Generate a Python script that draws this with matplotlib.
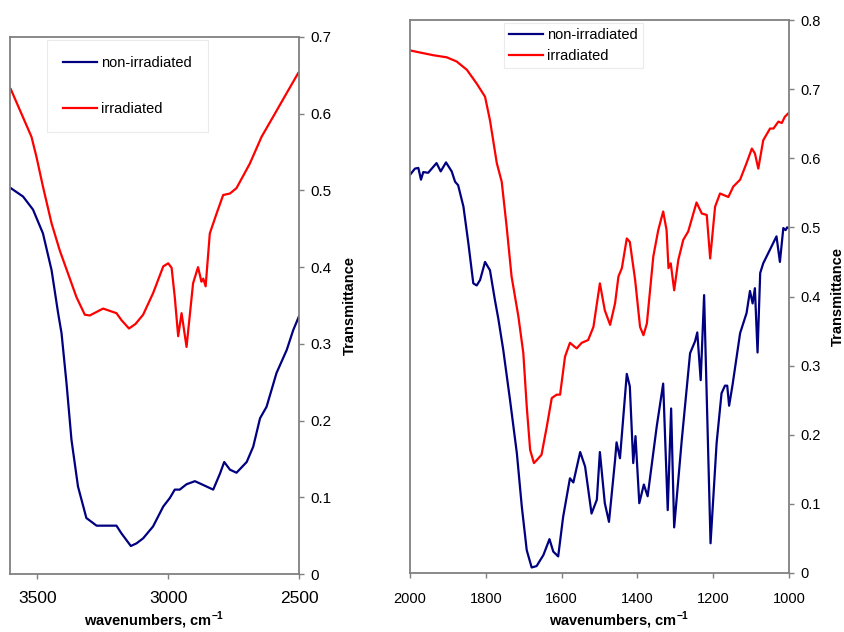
import matplotlib
matplotlib.use("Agg")
import matplotlib.pyplot as plt
from matplotlib.ticker import FuncFormatter

plt.rcParams['font.family'] = ['Liberation Sans', 'DejaVu Sans']
plt.rcParams['mathtext.fontset'] = 'custom'
plt.rcParams['mathtext.rm'] = 'Liberation Sans'
plt.rcParams['mathtext.bf'] = 'Liberation Sans:bold'

# high wavenumber region (O-H / C-H stretch)
hi_wn_irr = [3602, 3523, 3504, 3479, 3446, 3415, 3351, 3319, 3300, 3249, 3198, 3179,
             3150, 3125, 3096, 3058, 3019, 3000, 2987, 2975, 2962, 2949, 2930, 2905,
             2886, 2873, 2866, 2857, 2841, 2815, 2790, 2764, 2739, 2688, 2643, 2599,
             2547, 2503]
hi_irr = [0.632, 0.570, 0.544, 0.505, 0.457, 0.422, 0.361, 0.338, 0.337, 0.346, 0.340, 0.331,
          0.320, 0.326, 0.338, 0.366, 0.401, 0.405, 0.399, 0.361, 0.310, 0.340, 0.296, 0.379,
          0.400, 0.381, 0.385, 0.375, 0.444, 0.470, 0.494, 0.496, 0.503, 0.535, 0.570, 0.596,
          0.627, 0.653]

hi_wn_non = [3602, 3555, 3517, 3479, 3446, 3421, 3408, 3389, 3370, 3345, 3313, 3274,
             3198, 3179, 3143, 3121, 3096, 3058, 3019, 2994, 2975, 2956, 2930, 2898,
             2866, 2828, 2802, 2786, 2764, 2739, 2700, 2675, 2649, 2624, 2586, 2547,
             2522, 2500]
hi_non = [0.503, 0.492, 0.475, 0.444, 0.396, 0.340, 0.314, 0.249, 0.175, 0.114, 0.073, 0.063,
          0.063, 0.053, 0.0365, 0.040, 0.0465, 0.062, 0.088, 0.099, 0.110, 0.110, 0.117, 0.121,
          0.116, 0.110, 0.131, 0.146, 0.136, 0.132, 0.146, 0.166, 0.203, 0.218, 0.262, 0.292,
          0.318, 0.336]

# fingerprint region
lo_wn_irr = [2000, 1974, 1938, 1903, 1877, 1850, 1824, 1802, 1789, 1771, 1758, 1745,
             1732, 1714, 1701, 1692, 1683, 1673, 1661, 1653, 1639, 1626, 1613, 1604,
             1591, 1578, 1565, 1560, 1547, 1530, 1516, 1499, 1486, 1472, 1459, 1450,
             1441, 1428, 1420, 1406, 1393, 1384, 1375, 1358, 1345, 1332, 1323, 1318,
             1312, 1303, 1292, 1279, 1266, 1244, 1230, 1217, 1208, 1195, 1182, 1160,
             1147, 1129, 1112, 1098, 1090, 1081, 1068, 1050, 1041, 1028, 1019, 1011,
             1000]
lo_irr = [0.756, 0.753, 0.749, 0.746, 0.740, 0.728, 0.708, 0.689, 0.655, 0.593, 0.566, 0.501,
          0.429, 0.371, 0.318, 0.241, 0.178, 0.159, 0.166, 0.171, 0.212, 0.253, 0.258, 0.258,
          0.313, 0.333, 0.327, 0.325, 0.333, 0.337, 0.356, 0.419, 0.380, 0.359, 0.390, 0.429,
          0.441, 0.484, 0.479, 0.424, 0.356, 0.344, 0.361, 0.458, 0.496, 0.523, 0.496, 0.441,
          0.448, 0.409, 0.453, 0.482, 0.494, 0.536, 0.520, 0.518, 0.455, 0.530, 0.549, 0.544,
          0.559, 0.569, 0.593, 0.614, 0.607, 0.585, 0.626, 0.643, 0.643, 0.653, 0.651, 0.660,
          0.666]

lo_wn_non = [2000, 1987, 1978, 1971, 1965, 1952, 1930, 1919, 1905, 1890, 1881, 1873,
             1859, 1846, 1833, 1824, 1815, 1802, 1789, 1776, 1767, 1754, 1736, 1718,
             1705, 1692, 1679, 1666, 1648, 1632, 1622, 1609, 1596, 1578, 1569, 1551,
             1538, 1521, 1507, 1499, 1486, 1475, 1459, 1455, 1446, 1428, 1420, 1411,
             1405, 1395, 1383, 1373, 1349, 1332, 1320, 1311, 1303, 1283, 1261, 1248,
             1242, 1233, 1224, 1207, 1191, 1178, 1169, 1163, 1158, 1149, 1129, 1112,
             1103, 1096, 1090, 1083, 1076, 1068, 1033, 1024, 1015, 1009, 1005, 1000]
lo_non = [0.576, 0.585, 0.586, 0.569, 0.580, 0.579, 0.593, 0.581, 0.594, 0.581, 0.566, 0.561,
          0.530, 0.477, 0.419, 0.416, 0.424, 0.450, 0.438, 0.395, 0.368, 0.323, 0.250, 0.173,
          0.096, 0.033, 0.008, 0.010, 0.026, 0.049, 0.031, 0.024, 0.081, 0.137, 0.131, 0.175,
          0.154, 0.086, 0.106, 0.175, 0.101, 0.074, 0.163, 0.189, 0.166, 0.288, 0.270, 0.159,
          0.198, 0.101, 0.128, 0.111, 0.212, 0.274, 0.091, 0.238, 0.066, 0.192, 0.318, 0.335,
          0.348, 0.279, 0.402, 0.043, 0.188, 0.260, 0.271, 0.271, 0.242, 0.272, 0.347, 0.376,
          0.408, 0.390, 0.412, 0.319, 0.434, 0.448, 0.487, 0.450, 0.499, 0.496, 0.500, 0.499]

NAVY = '#000080'
RED = '#ff0000'
GRAY = '#808080'

fig = plt.figure(figsize=(8.44, 6.32), dpi=100)
ax1 = fig.add_axes([10 / 844, 1 - 574 / 632, 289 / 844, 537 / 632])
ax2 = fig.add_axes([410 / 844, 1 - 573 / 632, 379 / 844, 553 / 632])

fmt = FuncFormatter(lambda v, p: '0' if abs(v) < 1e-9 else '%g' % v)


def style(ax, xlim, ylim, yticks, xticks, xfs, yfs, xpad):
    ax.set_xlim(*xlim)
    ax.set_ylim(*ylim)
    ax.set_yticks(yticks)
    ax.set_xticks(xticks)
    ax.yaxis.set_major_formatter(fmt)
    ax.yaxis.tick_right()
    ax.yaxis.set_label_position('right')
    for s in ax.spines.values():
        s.set_color(GRAY)
        s.set_linewidth(1.3)
    ax.tick_params(axis='y', direction='out', length=3.5, width=1, color=GRAY,
                   labelsize=yfs, pad=5)
    ax.tick_params(axis='x', direction='out', length=3.5, width=1, color=GRAY,
                   labelsize=xfs, pad=xpad)


style(ax1, (3605, 2500), (0, 0.7), [0, 0.1, 0.2, 0.3, 0.4, 0.5, 0.6, 0.7],
      [3500, 3000, 2500], 12.5, 11, 9)
style(ax2, (2000, 1000), (0, 0.8), [0, 0.1, 0.2, 0.3, 0.4, 0.5, 0.6, 0.7, 0.8],
      [2000, 1800, 1600, 1400, 1200, 1000], 10.5, 10.5, 10)

ax1.plot(hi_wn_non, hi_non, color=NAVY, lw=1.6, label='non-irradiated')
ax1.plot(hi_wn_irr, hi_irr, color=RED, lw=1.6, label='irradiated')
ax2.plot(lo_wn_non, lo_non, color=NAVY, lw=1.6, label='non-irradiated')
ax2.plot(lo_wn_irr, lo_irr, color=RED, lw=1.6, label='irradiated')

xlab = r'wavenumbers, cm$^{\mathbf{-1}}$'
for ax, xl, yl in [(ax1, (0.5, -0.066), (1.176, 0.5)),
                   (ax2, (0.551, -0.066), (1.129, 0.5))]:
    ax.set_xlabel(xlab, fontsize=10.5, fontweight='bold')
    ax.xaxis.set_label_coords(*xl)
    ax.set_ylabel('Transmittance', fontsize=10.5, fontweight='bold', va='center')
    ax.yaxis.set_label_coords(*yl)

leg1 = ax1.legend(loc='upper left', bbox_to_anchor=(47 / 844, 1 - 40 / 632),
                  bbox_transform=fig.transFigure, borderaxespad=0, fontsize=10.5,
                  frameon=True, fancybox=False, handlelength=2.3, handletextpad=0.3,
                  labelspacing=2.2, borderpad=1.1)
leg1.get_frame().set_edgecolor('#e6e6e6')
leg1.get_frame().set_linewidth(0.8)

leg2 = ax2.legend(loc='upper left', bbox_to_anchor=(504 / 844, 1 - 23 / 632),
                  bbox_transform=fig.transFigure, borderaxespad=0, fontsize=10.5,
                  frameon=True, fancybox=False, handlelength=2.3, handletextpad=0.3,
                  labelspacing=0.45, borderpad=0.35)
leg2.get_frame().set_edgecolor('#e6e6e6')
leg2.get_frame().set_linewidth(0.8)

fig.savefig('out.png', dpi=100, facecolor='white')
